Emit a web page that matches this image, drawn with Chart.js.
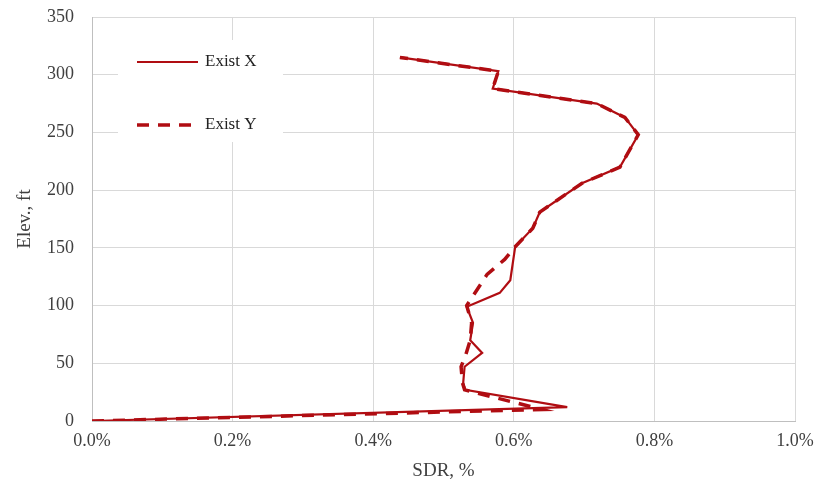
<!DOCTYPE html>
<html>
<head>
<meta charset="utf-8">
<script src="https://cdn.jsdelivr.net/npm/chart.js@4/dist/chart.umd.min.js"></script>
<style>
  html, body { margin: 0; padding: 0; background: #fff; }
  #wrap { width: 820px; height: 496px; }
</style>
</head>
<body>
<div id="wrap"><canvas id="sdrChart" width="820" height="496"></canvas></div>
<script>
// story drift ratio (%) vs elevation (ft)
const existXElev = [0, 12, 27, 33, 47, 59, 70, 85, 99, 111, 122, 151, 167, 181, 206, 220, 248, 263, 275, 288, 303, 315];
const existXSdr  = [0, 0.676, 0.531, 0.528, 0.530, 0.555, 0.538, 0.542, 0.533, 0.580, 0.595, 0.602, 0.627, 0.637, 0.697, 0.751, 0.777, 0.758, 0.718, 0.570, 0.578, 0.438];
const existYElev = [0, 10, 27, 33, 47, 58, 70, 85, 100, 127, 140, 151, 167, 181, 206, 220, 248, 263, 275, 288, 303, 315];
const existYSdr  = [0, 0.640, 0.530, 0.527, 0.525, 0.532, 0.538, 0.540, 0.533, 0.562, 0.587, 0.602, 0.627, 0.637, 0.697, 0.751, 0.777, 0.758, 0.718, 0.570, 0.578, 0.438];

const xTicks = [0, 0.2, 0.4, 0.6, 0.8, 1.0];
const yTicks = [0, 50, 100, 150, 200, 250, 300, 350];

const lineColor = '#b00d12';
const gridColor = '#d9d9d9';
const fontColor = '#404040';
const serif = '"Liberation Serif", "DejaVu Serif", serif';

const toPoints = (xs, ys) => xs.map((v, i) => ({ x: v, y: ys[i] }));

const data = {
    datasets: [{
        label: 'Exist X',
        data: toPoints(existXSdr, existXElev),
        borderColor: lineColor,
        backgroundColor: lineColor,
        borderWidth: 2.2,
        showLine: true,
        pointRadius: 0,
        tension: 0
    }, {
        label: 'Exist Y',
        data: toPoints(existYSdr, existYElev),
        borderColor: lineColor,
        backgroundColor: lineColor,
        borderWidth: 3.5,
        borderDash: [12, 9],
        showLine: true,
        pointRadius: 0,
        tension: 0
    }]
};

// legend drawn inside the plot, top left
const innerLegend = {
    id: 'innerLegend',
    afterDatasetsDraw(chart) {
        const c = chart.ctx;
        const rows = [{ y: 62 }, { y: 125 }];
        c.save();
        c.fillStyle = '#fff';
        c.fillRect(118, 40, 165, 102);
        chart.data.datasets.forEach((ds, i) => {
            const y = rows[i].y;
            c.strokeStyle = ds.borderColor;
            c.lineWidth = ds.borderWidth;
            c.setLineDash(ds.borderDash || []);
            c.beginPath();
            c.moveTo(137, y);
            c.lineTo(198, y);
            c.stroke();
            c.setLineDash([]);
            c.fillStyle = '#222';
            c.font = '17px ' + serif;
            c.textBaseline = 'middle';
            c.fillText(ds.label, 205, y);
        });
        c.restore();
    }
};

const config = {
    type: 'scatter',
    data: data,
    options: {
        responsive: false,
        animation: false,
        layout: { padding: { top: 17, right: 25, left: 0, bottom: 0 } },
        plugins: {
            legend: { display: false },
            tooltip: { enabled: false }
        },
        scales: {
            x: {
                type: 'linear',
                min: 0,
                max: 1.0,
                afterBuildTicks: (s) => { s.ticks = xTicks.map(v => ({ value: v })); },
                afterFit: (s) => { s.height = 75; s.paddingLeft = 0; s.paddingRight = 0; },
                ticks: {
                    color: fontColor,
                    font: { family: serif, size: 18 },
                    padding: 9,
                    maxRotation: 0,
                    callback: (v) => v.toFixed(1) + '%'
                },
                grid: { color: gridColor, drawTicks: false },
                border: { color: '#bfbfbf' },
                title: {
                    display: true,
                    text: 'SDR, %',
                    color: fontColor,
                    font: { family: serif, size: 19 },
                    padding: { top: 4, bottom: 14 }
                }
            },
            y: {
                type: 'linear',
                min: 0,
                max: 350,
                afterBuildTicks: (s) => { s.ticks = yTicks.map(v => ({ value: v })); },
                afterFit: (s) => { s.width = 92; s.paddingTop = 0; s.paddingBottom = 0; },
                ticks: {
                    color: fontColor,
                    font: { family: serif, size: 18 },
                    padding: 18
                },
                grid: { color: gridColor, drawTicks: false },
                border: { color: '#bfbfbf' },
                title: {
                    display: true,
                    text: 'Elev., ft',
                    color: fontColor,
                    font: { family: serif, size: 19 },
                    padding: { top: 14, bottom: 0 }
                }
            }
        }
    },
    plugins: [innerLegend]
};

new Chart(document.getElementById('sdrChart').getContext('2d'), config);
</script>
</body>
</html>
